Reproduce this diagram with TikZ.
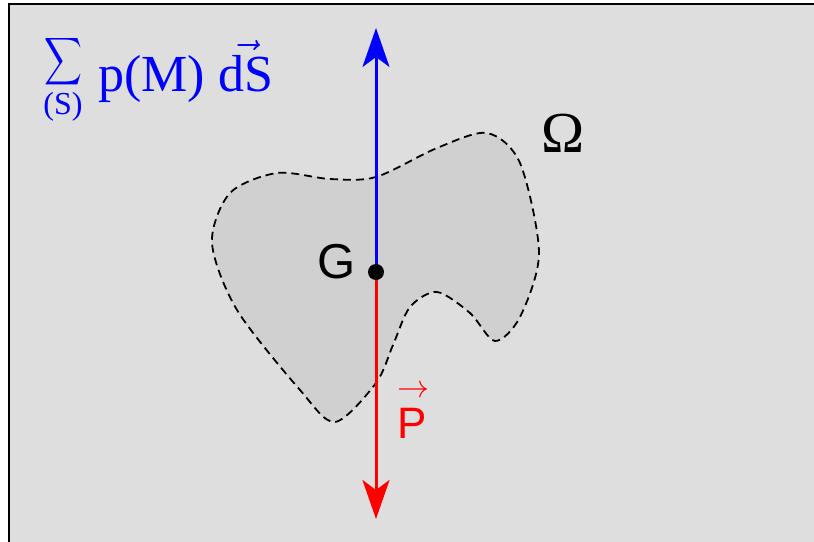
\documentclass[tikz,border=0pt]{standalone}
\usepackage{fix-cm}
\usepackage{fontspec}
\setmainfont{Liberation Serif}
\newfontfamily\arialfont{Liberation Sans}
\usepackage{amsmath}
\usepackage{xcolor}
\usetikzlibrary{arrows.meta}
\definecolor{panelgray}{RGB}{222,222,222}
\definecolor{regiongray}{RGB}{208,208,208}

\begin{document}
\begin{tikzpicture}[x=1pt,y=-1pt,
  force/.style={line width=3pt,-{Stealth[length=39pt,width=27pt,inset=10pt]}},
  region/.style={draw=black,fill=regiongray,line width=1.8pt,dash pattern=on 8pt off 5pt},
  label/.style={inner sep=0pt}]
\useasboundingbox (0,0) rectangle (814,541);
\clip (0,0) rectangle (814,541);
\fill[white] (0,0) rectangle (814,541);
\draw[fill=panelgray,line width=2pt] (9,4) rectangle (830,560);
% the body
\draw[region] plot[smooth cycle] coordinates {(277,173) (330,179) (376,177) (437,148) (487,133) (520,163) (539,253) (520,317) (495,341) (470,313) (437,292) (410,307) (393,345) (376,383) (335,422) (300,390) (237,310) (212,243) (230,193)};
\node[label,anchor=base] (omega) at (563,152) {\fontsize{58}{58}\selectfont Ω};
% forces at G
\coordinate (G) at (376,272);
\coordinate (Ptip) at (376,519);
\coordinate (Stip) at (376,28);
\draw[force,blue] (G) -- (Stip);
\draw[force,red] (G) -- (Ptip);
\fill (G) circle (8);
\node[label,anchor=base east,font=\arialfont\fontsize{49}{49}\selectfont] (Glabel) at (356,278) {G};
\node[label,anchor=base west,text=red,font=\arialfont\fontsize{44}{44}\selectfont] (Plabel) at (397,438)
  {\rlap{\raisebox{41pt}{\fontsize{32}{32}\selectfont$\rightarrow$}}P};
% pressure resultant
\node[label,text=blue] (sumsign) at (64,61.5) {\resizebox*{38pt}{53pt}{$\displaystyle\sum$}};
\node[label,anchor=base,text=blue,font=\fontsize{32}{32}\selectfont] (sumrange) at (63,114) {(S)};
\node[label,anchor=base west,text=blue,font=\fontsize{52}{52}\selectfont] (sumterm) at (98,91) {p(M) $\vec{\mbox{dS}}$};
\end{tikzpicture}
\end{document}
